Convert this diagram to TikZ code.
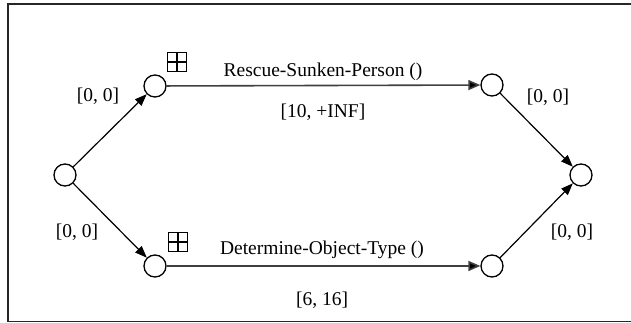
\documentclass[tikz,border=0pt]{standalone}
\usepackage{fontspec}
\setmainfont{Liberation Serif}
\usetikzlibrary{arrows.meta}
\begin{document}
\begin{tikzpicture}[x=1pt,y=1pt,
  state/.style={circle,draw,line width=1.3pt,minimum size=22pt,inner sep=0pt},
  gridbox/.style={draw,line width=1.2pt,minimum size=19pt,inner sep=0pt,
    path picture={\draw[line width=1.2pt] (path picture bounding box.north)--(path picture bounding box.south)
      (path picture bounding box.west)--(path picture bounding box.east);}},
  edge/.style={line width=1.2pt,-{Triangle[length=12pt,width=9pt]}},
  hedge/.style={line width=1.6pt,black!75,-{Triangle[length=12pt,width=10pt,fill=black]}},
  lbl/.style={font=\fontsize{19.5}{22}\selectfont,inner sep=0pt}]
\useasboundingbox (0,0) rectangle (631,323);
\begin{scope}
\clip (0,0) rectangle (631,323);
\draw[line width=1.6pt,black!85] (8,319) rectangle (645,1.5);
\end{scope}
\node[state] (s) at (65,148) {};
\node[state] (a) at (155,237) {};
\node[state] (b) at (155,57) {};
\node[state] (c) at (492,238) {};
\node[state] (d) at (492,57) {};
\node[state] (e) at (581,148) {};
\node[gridbox] (ga) at (177,261) {};
\node[gridbox] (gb) at (178,81) {};
\draw[edge] (s) -- (a);
\draw[edge] (s) -- (b);
\draw[hedge] (a) -- (c);
\draw[hedge] (b) -- (d);
\draw[edge] (c) -- (e);
\draw[edge] (d) -- (e);
\node[lbl] (t1) at (323,251) {Rescue-Sunken-Person ()};
\node[lbl] (t2) at (323,211) {[10, +INF]};
\node[lbl] (t3) at (322,73) {Determine-Object-Type ()};
\node[lbl] (t4) at (322,23) {[6, 16]};
\node[lbl] (l1) at (98,227) {[0, 0]};
\node[lbl] (l2) at (77,91) {[0, 0]};
\node[lbl] (l3) at (548,226) {[0, 0]};
\node[lbl] (l4) at (572,91) {[0, 0]};
\end{tikzpicture}
\end{document}
